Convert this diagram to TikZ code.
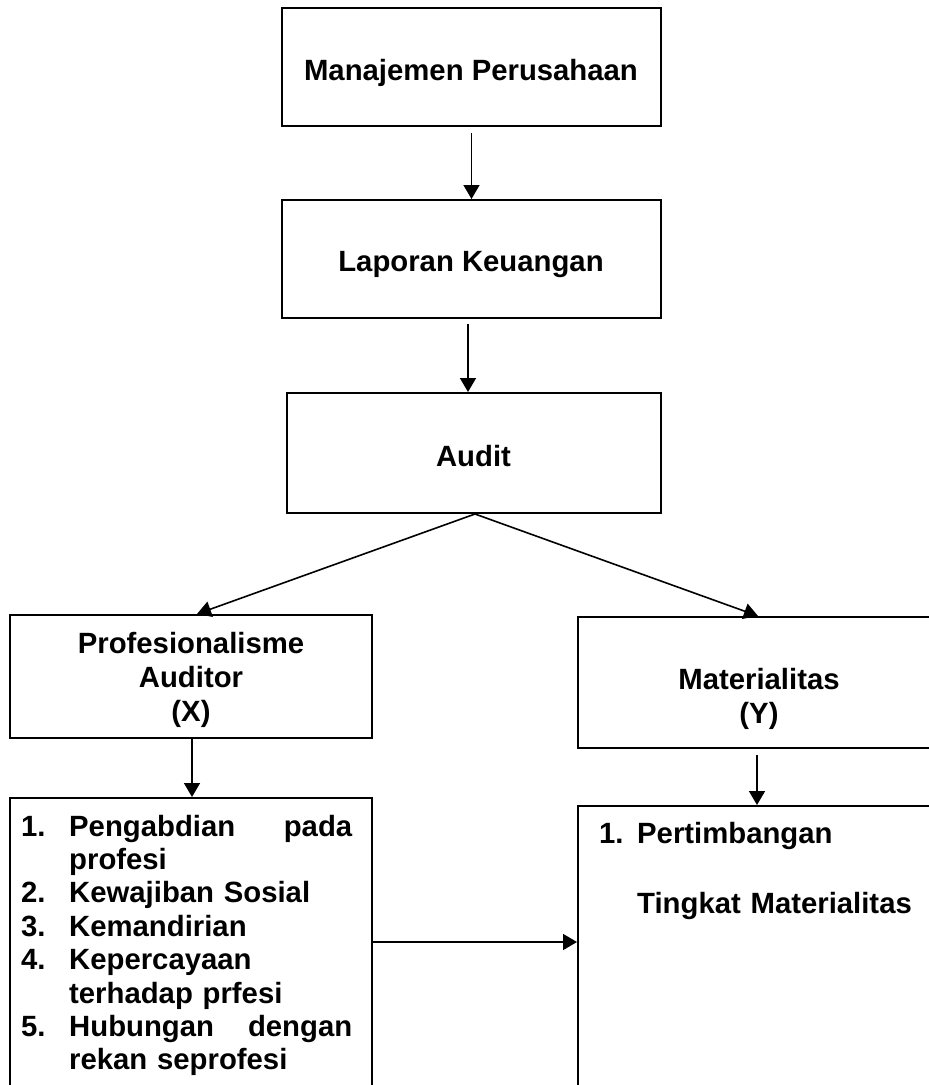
\documentclass[tikz,border=0pt]{standalone}
\usepackage{fontspec}
\setmainfont{Liberation Sans}
\usetikzlibrary{arrows.meta}
\begin{document}
\begin{tikzpicture}[x=1pt,y=-1pt,
  box/.style={draw, line width=2pt, rectangle, inner sep=0pt},
  lbl/.style={font=\bfseries\fontsize{29.3}{34}\selectfont, inner sep=0pt},
  lst/.style={font=\bfseries\fontsize{29.3}{33.4}\selectfont, inner sep=0pt, align=left},
  arr/.style={line width=1.6pt, -{Triangle[length=14pt,width=16pt]}}]
\useasboundingbox (0,0) rectangle (929,1085);
\clip (0,0) rectangle (929,1085);
% boxes
\node[box, minimum width=379pt, minimum height=118pt] (b1) at (471.5,67) {};
\node[box, minimum width=379pt, minimum height=118pt] (b2) at (471.5,259) {};
\node[box, minimum width=374pt, minimum height=120pt] (b3) at (474,453) {};
\node[box, minimum width=362pt, minimum height=123pt] (prof) at (191,676.5) {};
\node[box, minimum width=362pt, minimum height=131pt] (mat) at (759,682.5) {};
\node[box, minimum width=362pt, minimum height=310pt] (list1) at (191,953) {};
\node[box, minimum width=362pt, minimum height=310pt] (list2) at (759,961) {};
% texts
\node[lbl, anchor=base] (t1) at (471,80) {Manajemen Perusahaan};
\node[lbl, anchor=base] (t2) at (471,271) {Laporan Keuangan};
\node[lbl, anchor=base] (t3) at (473.5,466) {Audit};
\node[lbl, anchor=north, align=center] (tprof) at (191,629.2)
  {\strut Profesionalisme\\Auditor\\(X)};
\node[lbl, anchor=north, align=center] (tmat) at (759,665.2)
  {\strut Materialitas\\(Y)};
\node[lst, anchor=north west, text width=331pt] (tl1) at (21,812.6)
  {\strut\makebox[48pt][l]{1.}\makebox[283pt][s]{Pengabdian\hfill pada}\\
   \hspace*{48pt}profesi\\
   \makebox[48pt][l]{2.}Kewajiban Sosial\\
   \makebox[48pt][l]{3.}Kemandirian\\
   \makebox[48pt][l]{4.}Kepercayaan\\
   \hspace*{48pt}terhadap prfesi\\
   \makebox[48pt][l]{5.}\makebox[283pt][s]{Hubungan\hfill dengan}\\
   \hspace*{48pt}rekan seprofesi};
\node[lst, anchor=north west, text width=320pt, font=\bfseries\fontsize{29.3}{35}\selectfont] (tl2) at (599,818.5)
  {\strut\makebox[38pt][l]{1.}Pertimbangan\\[35pt]
   \hspace*{38pt}Tingkat Materialitas};
% connectors
\coordinate (hy) at (0,942);
\draw[arr] ([yshift=-6pt]b1.south) -- (b2.north);
\draw[arr] ([xshift=-3.5pt,yshift=-5pt]b2.south) coordinate (a2s) -- (a2s |- b3.north);
\draw[arr] ([xshift=1pt]b3.south) -- ([xshift=6pt]prof.north);
\draw[arr] ([xshift=1pt]b3.south) -- ([xshift=-1pt]mat.north);
\draw[arr] ([xshift=1pt]prof.south) -- ([xshift=1pt]list1.north);
\draw[arr] ([xshift=-2pt,yshift=-6pt]mat.south) coordinate (a6s) -- (a6s |- list2.north);
\draw[arr] (list1.east |- hy) -- (list2.west |- hy);
\end{tikzpicture}
\end{document}
